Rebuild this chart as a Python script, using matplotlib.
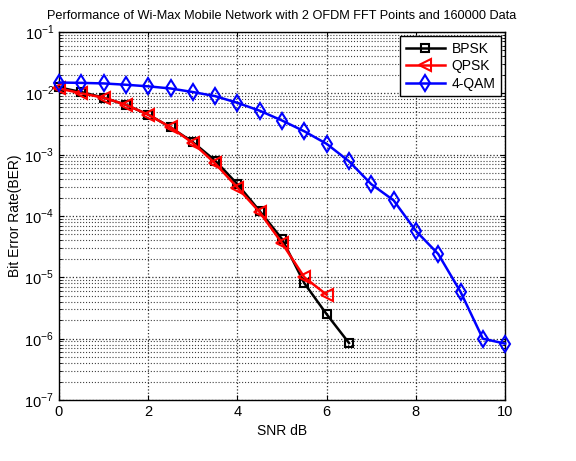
import numpy as np
import matplotlib
matplotlib.use("Agg")
import matplotlib.pyplot as plt
from matplotlib.ticker import NullFormatter

plt.rcParams['font.family'] = ['Liberation Sans', 'DejaVu Sans']
plt.rcParams['mathtext.fontset'] = 'custom'
plt.rcParams['mathtext.rm'] = 'Liberation Sans'

snr_bpsk = [0, 0.5, 1, 1.5, 2, 2.5, 3, 3.5, 4, 4.5, 5, 5.5, 6, 6.5]
ber_bpsk = [1.25e-2, 1.05e-2, 8.5e-3, 6.5e-3, 4.5e-3, 2.8e-3, 1.6e-3,
            8.0e-4, 3.3e-4, 1.2e-4, 4.2e-5, 8.0e-6, 2.5e-6, 8.5e-7]

snr_qpsk = [0, 0.5, 1, 1.5, 2, 2.5, 3, 3.5, 4, 4.5, 5, 5.5, 6]
ber_qpsk = [1.2e-2, 1.0e-2, 8.5e-3, 6.5e-3, 4.5e-3, 2.8e-3, 1.55e-3,
            7.2e-4, 2.9e-4, 1.15e-4, 3.6e-5, 1.0e-5, 5.2e-6]

snr_qam = [0, 0.5, 1, 1.5, 2, 2.5, 3, 3.5, 4, 4.5, 5, 5.5, 6, 6.5, 7,
           7.5, 8, 8.5, 9, 9.5, 10]
ber_qam = [1.5e-2, 1.48e-2, 1.45e-2, 1.38e-2, 1.3e-2, 1.2e-2, 1.05e-2,
           9.0e-3, 7.0e-3, 5.2e-3, 3.6e-3, 2.4e-3, 1.5e-3, 7.8e-4, 3.3e-4,
           1.8e-4, 5.7e-5, 2.4e-5, 5.8e-6, 1.0e-6, 8.3e-7]

x_ticks = [0, 2, 4, 6, 8, 10]
decades = [-7, -6, -5, -4, -3, -2, -1]

fig = plt.figure(figsize=(5.76, 4.61), dpi=100)
ax = fig.add_axes([0.1024, 0.1323, 0.7746, 0.7983])

ax.semilogy(snr_bpsk, ber_bpsk, color='black', marker='s', mfc='none',
            ms=6, mew=1.5, lw=1.8, label='BPSK', clip_on=False, zorder=3)
ax.semilogy(snr_qpsk, ber_qpsk, color='red', marker='<', mfc='none',
            ms=8, mew=1.5, lw=1.8, label='QPSK', clip_on=False, zorder=3)
ax.semilogy(snr_qam, ber_qam, color='blue', marker='d', mfc='none',
            ms=8, mew=1.5, lw=1.8, label='4-QAM', clip_on=False, zorder=3)

ax.set_xlim(0, 10)
ax.set_ylim(1e-7, 1e-1)
ax.set_xticks(x_ticks)
major = [10.0 ** d for d in decades]
minor = [m * 10.0 ** d for d in decades[:-1] for m in range(2, 10)]
ax.set_yticks(major)
ax.set_yticklabels([f'$10^{{{d}}}$' for d in decades])
ax.set_yticks(minor, minor=True)
ax.yaxis.set_minor_formatter(NullFormatter())

ax.grid(True, which='major', color='#303030', linestyle=':', linewidth=0.9)
ax.grid(True, which='minor', color='#404040', linestyle=':', linewidth=0.8)
ax.tick_params(which='both', direction='in', top=True, right=True, labelsize=10.5)
for s in ax.spines.values():
    s.set_linewidth(1.0)

ax.set_title('Performance of Wi-Max Mobile Network with 2 OFDM FFT Points and 160000 Data',
             fontsize=9.2, pad=9)
ax.set_xlabel('SNR dB', fontsize=10)
ax.set_ylabel('Bit Error Rate(BER)', fontsize=10, labelpad=2)

leg = ax.legend(loc='upper right', fontsize=10, fancybox=False, framealpha=1,
                edgecolor='black', handlelength=2.8, borderaxespad=0.3,
                labelspacing=0.25, handletextpad=0.5)
leg.get_frame().set_linewidth(1.0)

fig.savefig('out.png', dpi=100)
